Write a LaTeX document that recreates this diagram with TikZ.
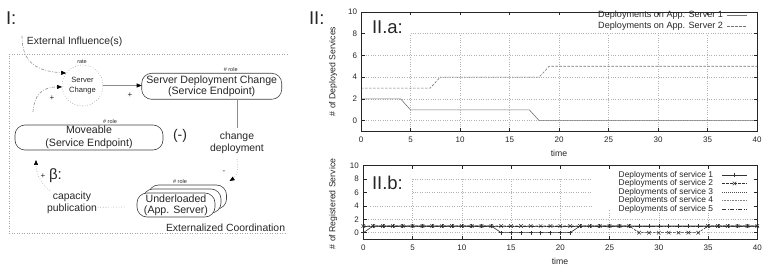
\documentclass[tikz,border=0pt]{standalone}
\usepackage{fontspec}
\setmainfont{Liberation Sans}
\usetikzlibrary{arrows.meta,calc}
\begin{document}
\begin{tikzpicture}[x=1pt,y=-1pt,
  every node/.style={inner sep=0pt, outer sep=0pt, text=black!85},
  lbl/.style={font=\fontsize{10.4}{12.2}\selectfont, align=center},
  big/.style={font=\fontsize{18.5}{19}\selectfont},
  role/.style={font=\fontsize{5.5}{6}\selectfont},
  sml/.style={font=\fontsize{8}{9}\selectfont},
  rbox/.style={draw=black!75, rounded corners=10pt, fill=white, line width=0.6pt, align=center, font=\fontsize{10.6}{11}\selectfont},
  flow/.style={draw=black!45, line width=0.6pt},
  tip/.style={-{Triangle[length=5pt,width=4pt,color=black]}},
  dashdot/.style={dash pattern=on 3pt off 1.5pt on 0.8pt off 1.5pt},
  frame/.style={draw=black!35, dotted, line width=0.5pt},
  axis/.style={draw=black!85, line width=0.6pt},
  grid/.style={draw=black!30, dotted, line width=0.4pt},
  tick/.style={font=\fontsize{8}{9}\selectfont},
  axlbl/.style={font=\fontsize{8.7}{9}\selectfont},
  lega/.style={font=\fontsize{9.1}{10}\selectfont},
  legb/.style={font=\fontsize{8.4}{9}\selectfont},
  sa/.style={draw=black!55, line width=0.6pt},
  sb/.style={draw=black!55, line width=0.6pt, dash pattern=on 2.5pt off 1.5pt},
  da/.style={draw=black!80, line width=0.6pt},
  db/.style={draw=black!80, line width=0.6pt, dash pattern=on 2.5pt off 1.5pt},
  dc/.style={draw=black!70, line width=0.6pt, dash pattern=on 0.6pt off 1.4pt},
  dd/.style={draw=black!50, line width=0.6pt, dash pattern=on 0.6pt off 1pt},
  de/.style={draw=black!80, line width=0.6pt, dash pattern=on 4pt off 1.5pt on 1pt off 1.5pt},
  mk/.style={draw=black!80, line width=0.5pt}
]
\useasboundingbox (0,0) rectangle (764,267);

% ---------------- Part I ----------------
\node[big, anchor=west] (lI) at (6,18) {I:};
\node[lbl, anchor=west] (ext) at (27,41.5) {External Influence(s)};
\coordinate (extS) at (22,36);
\draw[frame] (287,54) -- (9,54) -- (9,233) -- (287,233);

\node[circle, draw=black!40, dotted, line width=0.6pt, minimum size=41pt, align=center,
      font=\fontsize{7.6}{9.6}\selectfont] (sc) at (82.5,85.5) {Server\\Change};
\node[role] (rate) at (82,62) {rate};
\draw[flow, dashdot, tip] (extS) .. controls (22,64) and (38,71) .. (sc.143);
\coordinate (mvS) at (33,112);
\draw[flow, dashdot, tip] (mvS) .. controls (34,95) and (42,87) .. (sc.184);
\node[sml] (p1) at (52,98) {+};

\node[rbox, minimum width=140pt, minimum height=26pt] (sdc) at (211.7,86.3)
  {Server Deployment Change\\(Service Endpoint)};
\node[role] (r1) at (230.7,70) {\# role};
\draw[flow, tip] (sc.east) -- (sc.east -| sdc.west);
\node[sml] (p2) at (130,95) {+};

\node[lbl] (cd) at (237,143) {change\\deployment};
\draw[flow] (sdc.south -| cd.north) -- ([yshift=4pt]cd.north);

\node[rbox, minimum width=78pt, minimum height=24pt] (ulB) at (187.5,197) {};
\node[rbox, minimum width=78pt, minimum height=24pt] (ulM) at (182,201) {};
\node[rbox, minimum width=78pt, minimum height=24pt] (ulF) at (176,205) {Underloaded\\(App. Server)};
\node[role] (r2) at (180,181.5) {\# role};
\draw[flow, dotted, tip] ([yshift=-5pt]cd.south) .. controls (239,170) and (236,177) .. ([shift={(3,-4)}]ulB.north east);
\node[sml] (m1) at (224,172) {-};
\node[lbl, anchor=west] (extc) at (166,227.7) {Externalized Coordination};

\node[rbox, minimum width=148pt, minimum height=25pt] (mv) at (89,137.5) {Moveable\\[2pt](Service Endpoint)};
\node[role] (r3) at (110,121.7) {\# role};
\node[font=\fontsize{14}{14}\selectfont] (neg) at (180,136) {(-)};

\node[lbl] (cp) at (72,202.8) {capacity\\publication};
\coordinate (cpS) at (50,191);
\draw[flow, dotted, tip] (cpS) .. controls (40,183) and (36,172) .. ([shift={(21,10)}]mv.south west);
\node[sml] (p3) at (43,176) {+};
\node[font=\fontsize{15}{15}\selectfont, anchor=west] (beta) at (49,176) {β:};
\draw[flow, dotted] ([shift={(1,4.5)}]cp.east) -- ([shift={(-11,2)}]ulF.west);

% ---------------- Part II ----------------
\node[big, anchor=west] (lII) at (309,18) {II:};

% plot a
\begin{scope}[shift={(361,120.7)}, x=9.9pt, y=10.88pt]
  \foreach \v in {0,2,4,6} \draw[grid] (0,\v) -- (40,\v);
  \draw[grid] (5,8) -- (40,8);
  \foreach \t in {5,10,...,35} \draw[grid] (\t,-1) -- (\t,8);
  \draw[sa] (0,2) -- (4,2) -- (5,1) -- (17,1) -- (18,0) -- (40,0);
  \draw[sb] (0,3) -- (7,3) -- (8,4) -- (18,4) -- (19,5) -- (40,5);
  \draw[axis] (0,-1) rectangle (40,10);
  \foreach \t in {0,5,...,40} {
    \draw[axis] (\t,-1) -- ++(0pt,3.5pt);
    \draw[axis] (\t,10) -- ++(0pt,-3.5pt);
    \node[tick, below=5pt] at (\t,-1) {\t};
  }
  \foreach \v in {0,2,...,10} {
    \draw[axis] (0,\v) -- ++(3.5pt,0pt);
    \draw[axis] (40,\v) -- ++(-3.5pt,0pt);
    \node[tick, left=4pt] at (0,\v) {\v};
  }
\end{scope}
\node[axlbl] (ta) at (559,153) {time};
\node[axlbl, rotate=90] (ya) at (333,71.5) {\# of Deployed Services};
\node[big, anchor=west] (IIa) at (372,27) {II.a:};
\node[lega, anchor=east] (la1) at (723,15) {Deployments on App. Server 1};
\node[lega, anchor=east] (la2) at (723,26.5) {Deployments on App. Server 2};
\draw[sa] (727,15) -- (747,15);
\draw[sb] (727,26.5) -- (747,26.5);

% plot b
\begin{scope}[shift={(363.3,232.7)}, x=9.85pt, y=6.7pt]
  \foreach \v in {0,2} \draw[grid] (0,\v) -- (40,\v);
  \draw[grid] (0.7,4) -- (23.2,4);
  \foreach \v in {6,8} \draw[grid] (5,\v) -- (23.2,\v);
  \foreach \t in {5,10,...,20} \draw[grid] (\t,-1) -- (\t,8);
  \foreach \t in {25,30,35} \draw[grid] (\t,-1) -- (\t,3.5);
  % services 3-5 at 1
  \draw[dc] (0,1) -- (40,1);
  \draw[dd] (0,1) -- (40,1);
  \draw[de] (0,1) -- (40,1);
  % service 2
  \draw[db] (0,1) -- (27,1) -- (28,0) -- (34,0) -- (35,1) -- (40,1);
  \foreach \t in {0,...,27,35,36,...,40}
    \draw[mk] (\t,1) ++(-1.8pt,-1.8pt) -- ++(3.6pt,3.6pt) ++(0pt,-3.6pt) -- ++(-3.6pt,3.6pt);
  \foreach \t in {28,...,34}
    \draw[mk] (\t,0) ++(-1.8pt,-1.8pt) -- ++(3.6pt,3.6pt) ++(0pt,-3.6pt) -- ++(-3.6pt,3.6pt);
  % service 1
  \draw[da] (0,0) -- (1,1) -- (13,1) -- (14,0) -- (21,0) -- (22,1) -- (40,1);
  \foreach \t in {1,...,13,22,23,...,40}
    \draw[mk] (\t,1) ++(-2pt,0pt) -- ++(4pt,0pt) ++(-2pt,-2pt) -- ++(0pt,4pt);
  \foreach \t in {0,14,15,...,21}
    \draw[mk] (\t,0) ++(-2pt,0pt) -- ++(4pt,0pt) ++(-2pt,-2pt) -- ++(0pt,4pt);
  \draw[axis] (0,-1) rectangle (40,10);
  \foreach \t in {0,5,...,40} {
    \draw[axis] (\t,-1) -- ++(0pt,3.5pt);
    \draw[axis] (\t,10) -- ++(0pt,-3.5pt);
    \node[tick, below=5.5pt] at (\t,-1) {\t};
  }
  \foreach \v in {0,2,...,10} {
    \draw[axis] (0,\v) -- ++(3.5pt,0pt);
    \draw[axis] (40,\v) -- ++(-3.5pt,0pt);
    \node[tick, left=4.5pt] at (0,\v) {\v};
  }
\end{scope}
\node[axlbl] (tb) at (560,261.5) {time};
\node[axlbl, rotate=90] (yb) at (333,204) {\# of Registered Service};
\node[big, anchor=west] (IIb) at (372,183.3) {II.b:};
\node[legb, anchor=east] (lb1) at (713,175) {Deployments of service 1};
\node[legb, anchor=east] (lb2) at (713,183.5) {Deployments of service 2};
\node[legb, anchor=east] (lb3) at (713,192) {Deployments of service 3};
\node[legb, anchor=east] (lb4) at (713,200.5) {Deployments of service 4};
\node[legb, anchor=east] (lb5) at (713,209) {Deployments of service 5};
\draw[da] (722,175) -- (747,175);
\draw[mk] (734.5,175) ++(-2,0) -- ++(4,0) ++(-2,-2) -- ++(0,4);
\draw[db] (722,183.5) -- (747,183.5);
\draw[mk] (734.5,183.5) ++(-1.8,-1.8) -- ++(3.6,3.6) ++(0,-3.6) -- ++(-3.6,3.6);
\draw[dc] (722,192) -- (747,192);
\draw[dd] (722,200.5) -- (747,200.5);
\draw[de] (722,209) -- (747,209);
\end{tikzpicture}
\end{document}
